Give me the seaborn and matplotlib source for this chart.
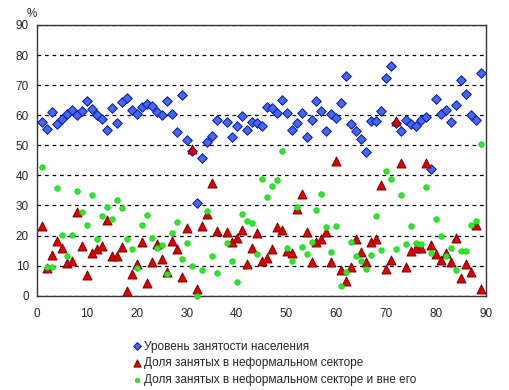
import numpy as np
import pandas as pd
import matplotlib
matplotlib.use("Agg")
import matplotlib.pyplot as plt
import seaborn as sns

# region index (37 has no data in the source chart)
region = [i for i in range(1, 90) if i != 37]

employment = [
    57.6, 55.3, 61.1, 57.0, 58.6, 60.3, 61.6, 60.0, 61.3, 64.6,
    62.0, 60.0, 58.6, 55.0, 62.3, 57.3, 64.3, 65.6, 61.6, 60.3,
    62.6, 63.6, 63.0, 61.0, 60.0, 64.6, 60.3, 54.3, 66.6, 51.7,
    48.0, 30.9, 45.7, 51.0, 53.0, 58.3,
    57.6, 52.6, 56.3, 59.6, 55.0, 57.6, 57.3, 56.3, 62.6, 62.3,
    60.6, 65.0, 60.6, 55.0, 57.3, 60.6, 52.6, 58.3, 64.6, 61.3,
    54.6, 60.3, 59.0, 64.0, 72.9, 57.0, 54.6, 52.0, 47.7, 58.0,
    58.0, 61.3, 72.3, 76.3, 57.5, 54.6, 58.3, 57.0, 56.3, 58.3,
    59.3, 42.0, 65.3, 60.3, 61.6, 57.6, 63.3, 71.6, 67.0, 60.0,
    58.3, 73.9,
]

informal = [
    23.3, 9.1, 13.5, 18.3, 15.9, 10.9, 11.6, 27.9, 16.5, 7.0,
    14.3, 15.6, 16.6, 25.3, 13.1, 13.1, 16.3, 1.7, 7.3, 10.5,
    18.0, 4.3, 11.3, 17.2, 12.1, 8.0, 18.3, 15.6, 6.3, 22.6,
    48.8, 2.2, 23.3, 27.3, 37.6, 21.4,
    21.1, 17.8, 19.3, 21.9, 10.6, 16.0, 20.7, 11.6, 12.6, 15.6,
    22.9, 21.9, 15.0, 14.3, 28.9, 33.7, 21.3, 11.3, 18.0, 19.0,
    21.3, 11.3, 44.9, 8.6, 5.0, 9.6, 19.0, 14.6, 11.3, 18.0,
    19.0, 36.9, 9.0, 12.0, 58.2, 44.2, 9.6, 15.0, 16.0, 16.0,
    44.2, 17.0, 14.0, 12.0, 14.3, 11.3, 19.3, 6.0, 10.6, 8.0,
    23.6, 2.3,
]

informal_and_outside = [
    42.9, 9.4, 9.6, 35.9, 20.2, 13.3, 20.2, 34.9, 27.9, 23.6,
    33.6, 18.8, 26.6, 29.6, 25.6, 31.9, 29.3, 18.8, 15.6, 9.3,
    23.6, 26.9, 19.3, 16.0, 17.0, 7.3, 20.9, 24.6, 12.3, 17.6,
    10.0, 0.0, 8.6, 28.3, 13.3, 7.6,
    17.6, 11.6, 4.7, 27.3, 24.9, 24.3, 14.0, 38.9, 32.9, 36.6,
    38.6, 48.2, 16.0, 11.6, 29.6, 16.3, 14.0, 18.0, 28.6, 33.9,
    22.9, 14.6, 23.3, 3.3, 8.0, 18.0, 13.3, 11.6, 9.0, 13.6,
    26.6, 15.3, 41.6, 38.9, 15.6, 33.6, 17.3, 23.3, 17.6, 17.3,
    36.2, 14.3, 25.6, 20.0, 13.3, 16.0, 8.6, 15.0, 15.0, 23.6,
    24.9, 50.5,
]

series_names = [
    "Уровень занятости населения",
    "Доля занятых в неформальном секторе",
    "Доля занятых в неформальном секторе и вне его",
]

df = pd.DataFrame({
    "region": region * 3,
    "value": employment + informal + informal_and_outside,
    "series": np.repeat(series_names, len(region)),
})

sns.set_style("white")
plt.rcParams["font.family"] = ["Liberation Sans", "DejaVu Sans"]
plt.rcParams["font.size"] = 8.5

fig = plt.figure(figsize=(5.09, 3.90), dpi=100)
ax = fig.add_axes([0.0733, 0.2418, 0.8815, 0.6941])

styles = {
    series_names[0]: dict(marker="D", s=24, color="#4466FF", edgecolor="#0A1A8C", linewidth=0.7),
    series_names[1]: dict(marker="^", s=42, color="#E00000", edgecolor="#800000", linewidth=0.7),
    series_names[2]: dict(marker="o", s=16, color="#22EE22", edgecolor="#22CC22", linewidth=0.5),
}

for name in series_names:
    sub = df[df["series"] == name]
    sns.scatterplot(data=sub, x="region", y="value", ax=ax, label=name,
                    zorder=3, clip_on=False, **styles[name])

ax.set_xlim(0, 90)
ax.set_ylim(0, 90)
ax.set_xticks(range(0, 91, 10))
ax.set_yticks(range(0, 91, 10))
ax.set_xlabel("")
ax.set_ylabel("")
ax.yaxis.grid(True, linestyle=(0, (3, 3)), color="black", linewidth=0.9)
ax.xaxis.grid(False)
for sp in ax.spines.values():
    sp.set_color("#333333")
    sp.set_linewidth(1.0)
ax.tick_params(axis="both", direction="out", length=3, width=0.8,
               color="#333333", labelsize=8.5, pad=3)
ax.tick_params(axis="x", pad=6)
ax.text(-0.012, 1.042, "%", transform=ax.transAxes, ha="center", va="center", fontsize=8.5)

ax.get_legend().remove()
handles, labels = ax.get_legend_handles_labels()
fig.legend(handles, labels, loc="upper left", bbox_to_anchor=(0.245, 0.142),
           frameon=False, fontsize=8.5, handletextpad=0.1, labelspacing=0.4,
           handlelength=1.0, borderpad=0, markerscale=0.8)

fig.savefig("out.png", dpi=100)
